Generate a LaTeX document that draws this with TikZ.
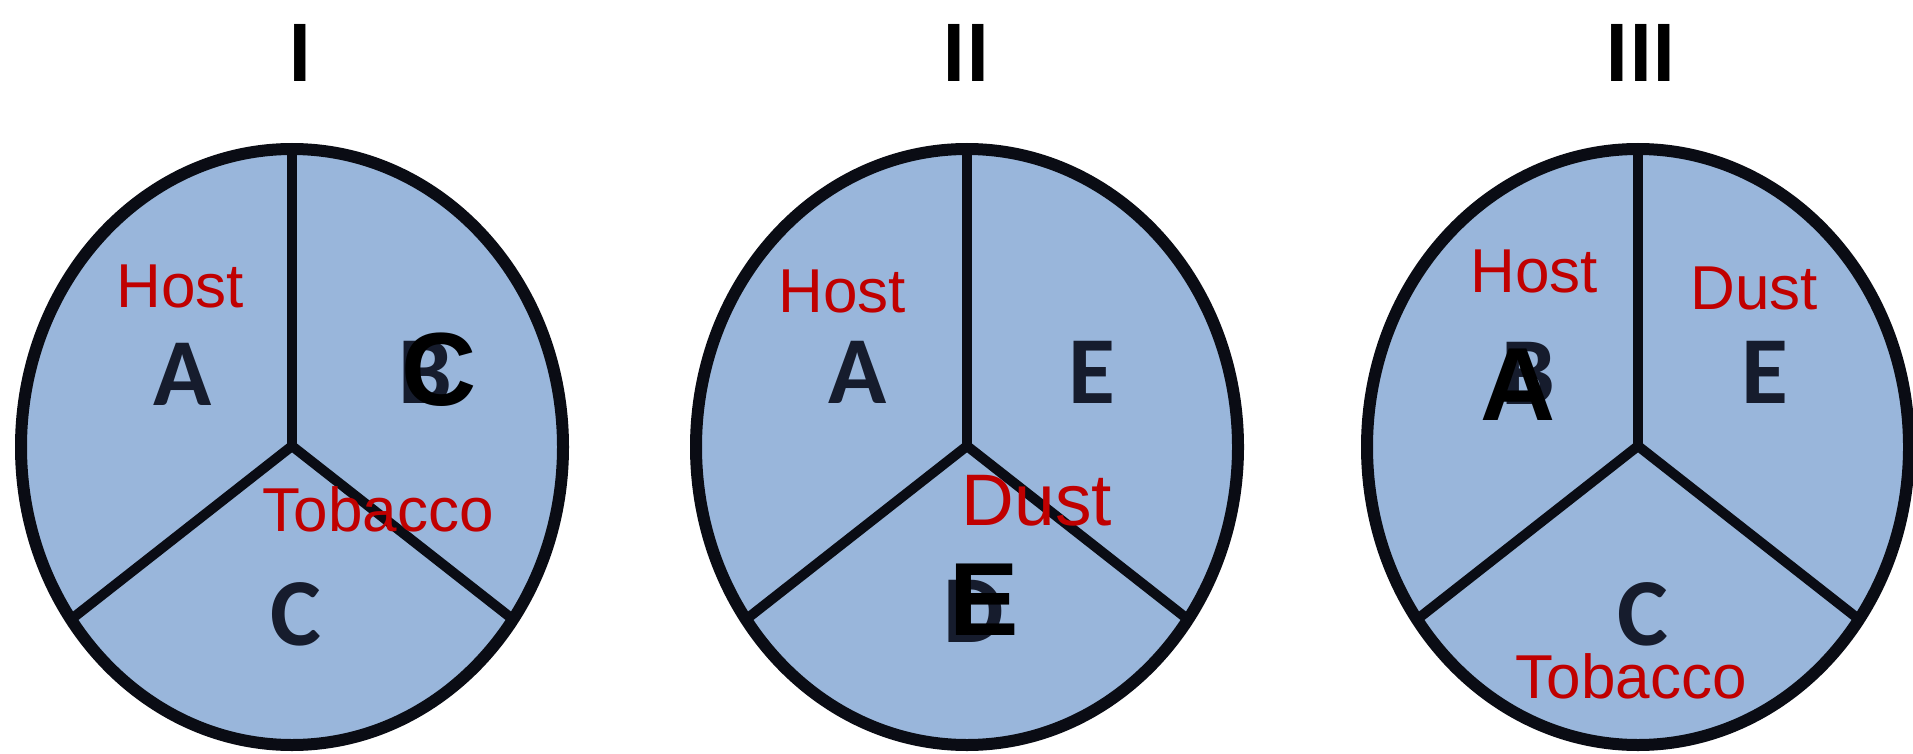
\documentclass[tikz,border=0pt]{standalone}
\usepackage{fontspec}
\setmainfont{Liberation Sans}
\newfontfamily\calib{Carlito}

\definecolor{pie}{RGB}{153,182,219}
\definecolor{rim}{RGB}{10,12,20}
\definecolor{lbl}{RGB}{192,0,0}
\definecolor{ink}{RGB}{22,28,45}

\tikzset{
  plate/.style={fill=pie, draw=rim, line width=12pt},
  spoke/.style={draw=rim, line width=10pt},
  tag/.style={text=lbl, font=\fontsize{62}{62}\selectfont, inner sep=0pt, anchor=base},
  bigtag/.style={tag, font=\fontsize{73}{73}\selectfont},
  letter/.style={text=ink, font=\calib\bfseries\fontsize{96}{96}\selectfont, inner sep=0pt, anchor=base},
  stamp/.style={text=black, font=\bfseries\fontsize{104}{104}\selectfont, inner sep=0pt, anchor=base},
  numeral/.style={text=black, font=\calib\bfseries\fontsize{88}{88}\selectfont, inner sep=0pt, anchor=base},
}

\begin{document}
\begin{tikzpicture}[x=1pt, y=-1pt]
  \fill[white] (0,0) rectangle (1913,754);
  \useasboundingbox (0,0) rectangle (1913,754);

  % three segmented discs
  \foreach \n/\cx in {1/292, 2/967, 3/1638} {
    \draw[plate] (\cx,447) ellipse [x radius=271, y radius=298];
    \coordinate (hub\n) at (\cx,446);
    \coordinate (top\n) at (\cx,149);
    \coordinate (sw\n) at (\cx-223,621);
    \coordinate (se\n) at (\cx+223,621);
    \draw[spoke] (top\n) -- (hub\n);
    \draw[spoke] (sw\n) -- (hub\n) -- (se\n);
  }

  % headings
  \node[numeral] (t1) at (300,82) {I};
  \node[numeral] (t2) at (966,82) {II};
  \node[numeral] (t3) at (1641,82) {III};

  % disc I
  \node[letter] (a1) at (183,405) {A};
  \node[letter] (b1) at (425,403) {B};
  \node[letter] (c1) at (296,645) {C};
  \node[tag] (host1) at (180,307) {Host};
  \node[tag] (tob1) at (378,531) {Tobacco};
  \node[stamp] (x1) at (439,405) {C};

  % disc II
  \node[letter] (a2) at (858,403) {A};
  \node[letter] (e2) at (1092,403) {E};
  \node[letter] (d2) at (974,642) {D};
  \node[tag] (host2) at (842,312) {Host};
  \node[bigtag] (dust2) at (1037,525) {Dust};
  \node[stamp] (x2) at (984,635) {E};

  % disc III
  \node[letter] (b3) at (1528,404) {B};
  \node[letter] (e3) at (1765,403) {E};
  \node[letter] (c3) at (1643,645) {C};
  \node[tag] (host3) at (1534,292) {Host};
  \node[tag] (dust3) at (1754,309) {Dust};
  \node[tag] (tob3) at (1631,698) {Tobacco};
  \node[stamp] (x3) at (1518,420) {A};
\end{tikzpicture}
\end{document}
